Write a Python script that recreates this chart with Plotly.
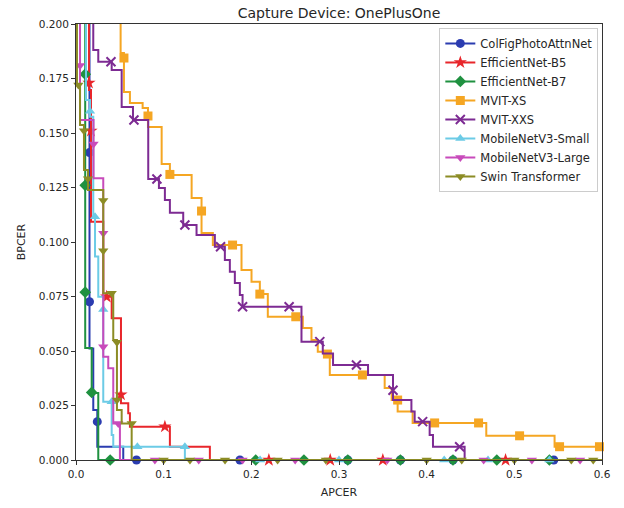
import plotly.graph_objects as go

# ---------------- data (DET step curves: APCER vs BPCER) ----------------
series_names = ["ColFigPhotoAttnNet", "EfficientNet-B5", "EfficientNet-B7", "MVIT-XS",
                "MVIT-XXS", "MobileNetV3-Small", "MobileNetV3-Large", "Swin Transformer"]

colfig_x = [0.0154, 0.0197, 0.0243, 0.0539, 0.62]
colfig_y = [0.21, 0.0512, 0.0229, 0.0061, 0.0]
colfig_mx = [0.0154, 0.0154, 0.0243]
colfig_my = [0.141, 0.0726, 0.0176]
colfig_zero = [0.069, 0.187, 0.31, 0.37, 0.43, 0.545]

b5_x = [0.0148, 0.0171, 0.0311, 0.0407, 0.0513, 0.0596, 0.0615, 0.1071, 0.1527, 0.62]
b5_y = [0.21, 0.1697, 0.1093, 0.0749, 0.0650, 0.0260, 0.0214, 0.0153, 0.0061, 0.0]
b5_mx = [0.0148, 0.0171, 0.035, 0.0513, 0.1014]
b5_my = [0.173, 0.151, 0.0749, 0.030, 0.0153]
b5_zero = [0.22, 0.29, 0.35, 0.49]

b7_x = [0.0105, 0.0179, 0.0254, 0.62]
b7_y = [0.21, 0.0514, 0.0307, 0.0]
b7_mx = [0.0105, 0.0105, 0.0105, 0.0179]
b7_my = [0.177, 0.126, 0.077, 0.031]
b7_zero = [0.039, 0.205, 0.26, 0.31, 0.37, 0.43, 0.48, 0.54]

xs_x = [0.0509, 0.0547, 0.0615, 0.0760, 0.0821, 0.0977, 0.1071, 0.1319, 0.1432, 0.1561,
        0.1888, 0.2002, 0.2097, 0.2188, 0.2587, 0.2686, 0.2758, 0.2838, 0.2895, 0.3521,
        0.3601, 0.3669, 0.3840, 0.4680, 0.5459, 0.62]
xs_y = [0.21, 0.1867, 0.1688, 0.1638, 0.1615, 0.1527, 0.1358, 0.1307, 0.1202, 0.1041,
        0.0986, 0.0872, 0.0818, 0.0761, 0.0657, 0.0605, 0.0550, 0.0497, 0.0486, 0.0390,
        0.0330, 0.0275, 0.0222, 0.0170, 0.0111, 0.0061]
xs_mx = [0.0547, 0.0821, 0.1071, 0.1432, 0.1786, 0.2097, 0.2507, 0.2868, 0.3267, 0.3669,
         0.4091, 0.4592, 0.5060, 0.5516, 0.5971]
xs_my = [0.1844, 0.1578, 0.131, 0.1142, 0.0986, 0.0761, 0.0657, 0.0486, 0.039, 0.0275,
         0.017, 0.017, 0.0111, 0.0061, 0.0061]
xs_zero = []

xxs_x = [0.0197, 0.0254, 0.0407, 0.0521, 0.0650, 0.0824, 0.0946, 0.1014, 0.1071, 0.1223,
         0.1375, 0.1584, 0.1698, 0.1755, 0.1812, 0.1869, 0.1900, 0.2572, 0.2815, 0.2932,
         0.3331, 0.3616, 0.3826, 0.3863, 0.4034, 0.4072, 0.4433, 0.62]
xxs_y = [0.21, 0.1881, 0.1827, 0.1789, 0.1619, 0.1560, 0.1289, 0.1248, 0.1193, 0.1134,
         0.1078, 0.1032, 0.0978, 0.0917, 0.0864, 0.0812, 0.0757, 0.0703, 0.0543, 0.0489,
         0.0436, 0.0390, 0.0275, 0.0222, 0.0176, 0.0115, 0.0061, 0.0]
xxs_mx = [0.0399, 0.0661, 0.0923, 0.1242, 0.1649, 0.1900, 0.2431, 0.2781, 0.3199, 0.3616,
          0.3954, 0.4376]
xxs_my = [0.1827, 0.156, 0.1289, 0.1078, 0.0978, 0.0703, 0.0703, 0.0543, 0.0436, 0.032,
          0.0176, 0.0061]
xxs_zero = []

small_x = [0.0114, 0.0160, 0.0197, 0.0217, 0.0254, 0.0311, 0.0407, 0.0425, 0.1242, 0.62]
small_y = [0.21, 0.1651, 0.1575, 0.1116, 0.0933, 0.0749, 0.0267, 0.0115, 0.0061, 0.0]
small_mx = [0.0160, 0.0217, 0.0311, 0.0407, 0.070, 0.1242]
small_my = [0.160, 0.1116, 0.069, 0.0267, 0.0061, 0.0061]
small_zero = [0.21, 0.30, 0.42, 0.47, 0.54]

large_x = [0.0046, 0.0200, 0.0311, 0.0368, 0.0425, 0.0501, 0.62]
large_y = [0.21, 0.1560, 0.1292, 0.0474, 0.0421, 0.0168, 0.0]
large_mx = [0.0046, 0.0200, 0.0311, 0.0311, 0.0482]
large_my = [0.181, 0.145, 0.104, 0.052, 0.0168]
large_zero = [0.09, 0.14, 0.19, 0.25, 0.355, 0.465, 0.52, 0.575]

swin_x = [0.0011, 0.0046, 0.0091, 0.0137, 0.0311, 0.0425, 0.0467, 0.0521, 0.0635, 0.62]
swin_y = [0.21, 0.1720, 0.1537, 0.1330, 0.1238, 0.0765, 0.0550, 0.0229, 0.0168, 0.0]
swin_mx = [0.0027, 0.0091, 0.0137, 0.0311, 0.0311, 0.0407, 0.0467, 0.0467, 0.0635]
swin_my = [0.172, 0.151, 0.129, 0.119, 0.096, 0.0765, 0.054, 0.0275, 0.0168]
swin_zero = [0.10, 0.13, 0.17, 0.23, 0.285, 0.40, 0.44, 0.50, 0.565, 0.59]

x_ticks = [0.0, 0.1, 0.2, 0.3, 0.4, 0.5, 0.6]
y_ticks = [0.0, 0.025, 0.05, 0.075, 0.1, 0.125, 0.15, 0.175, 0.2]

# ---------------- styles ----------------
colors = ["#2b3cb0", "#e8262b", "#1f9140", "#f5a623", "#7d2b93", "#6ccbe6", "#c84bbb", "#8c8c25"]
symbols = ["circle", "star", "diamond", "square", "x-thin", "triangle-up", "triangle-down", "triangle-down"]

all_series = [
    (colfig_x, colfig_y, colfig_mx, colfig_my, colfig_zero),
    (b5_x, b5_y, b5_mx, b5_my, b5_zero),
    (b7_x, b7_y, b7_mx, b7_my, b7_zero),
    (xs_x, xs_y, xs_mx, xs_my, xs_zero),
    (xxs_x, xxs_y, xxs_mx, xxs_my, xxs_zero),
    (small_x, small_y, small_mx, small_my, small_zero),
    (large_x, large_y, large_mx, large_my, large_zero),
    (swin_x, swin_y, swin_mx, swin_my, swin_zero),
]

FONT = "DejaVu Sans"
fig = go.Figure()
for name, (sx, sy, mx, my, zx), col, sym in zip(series_names, all_series, colors, symbols):
    fig.add_trace(go.Scatter(x=sx, y=sy, mode="lines", line=dict(color=col, width=2, shape="vh"),
                             showlegend=False, hoverinfo="skip"))
    px, py = [], []
    for a, b in zip(list(mx) + list(zx), list(my) + [0.0] * len(zx)):
        px += [a, None]
        py += [b, None]
    is_x = sym.startswith("x")
    fig.add_trace(go.Scatter(
        x=px, y=py, mode="lines+markers", name=name,
        line=dict(color=col, width=2),
        marker=dict(symbol=sym, size=9 if sym != "star" else 10, color=col,
                    line=dict(color=col, width=2 if is_x else 0)),
        cliponaxis=False, hoverinfo="skip"))

axis_common = dict(showgrid=False, zeroline=False, showline=True, linecolor="#333333",
                   linewidth=1, mirror=True, ticks="outside", ticklen=4, tickcolor="#333333",
                   tickfont=dict(family=FONT, size=10.5, color="#262626"))

fig.update_layout(
    width=624, height=508,
    margin=dict(l=76, r=22, t=24, b=48),
    paper_bgcolor="white", plot_bgcolor="white",
    font=dict(family=FONT, color="#262626"),
    title=dict(text="Capture Device: OnePlusOne", x=0.5, xref="paper", xanchor="center",
               y=1 - 13 / 508, yref="container", yanchor="middle",
               font=dict(family=FONT, size=14, color="#262626")),
    xaxis=dict(range=[0, 0.6], tickvals=x_ticks, ticktext=[f"{v:.1f}" for v in x_ticks],
               title=dict(text="APCER", standoff=9, font=dict(family=FONT, size=11)),
               **axis_common),
    yaxis=dict(range=[0, 0.2], tickvals=y_ticks, ticktext=[f"{v:.3f}" for v in y_ticks],
               title=dict(text="BPCER", standoff=10, font=dict(family=FONT, size=11)),
               **axis_common),
    legend=dict(x=0.993, y=0.991, xanchor="right", yanchor="top", bgcolor="rgba(255,255,255,0.9)",
                bordercolor="#cccccc", borderwidth=1, font=dict(family=FONT, size=11.5, color="#262626"),
                tracegroupgap=0),
    showlegend=True,
    hovermode=False,
)

fig.write_html("out.html", config={"displayModeBar": False},
               post_script="document.body.style.margin='0';")
